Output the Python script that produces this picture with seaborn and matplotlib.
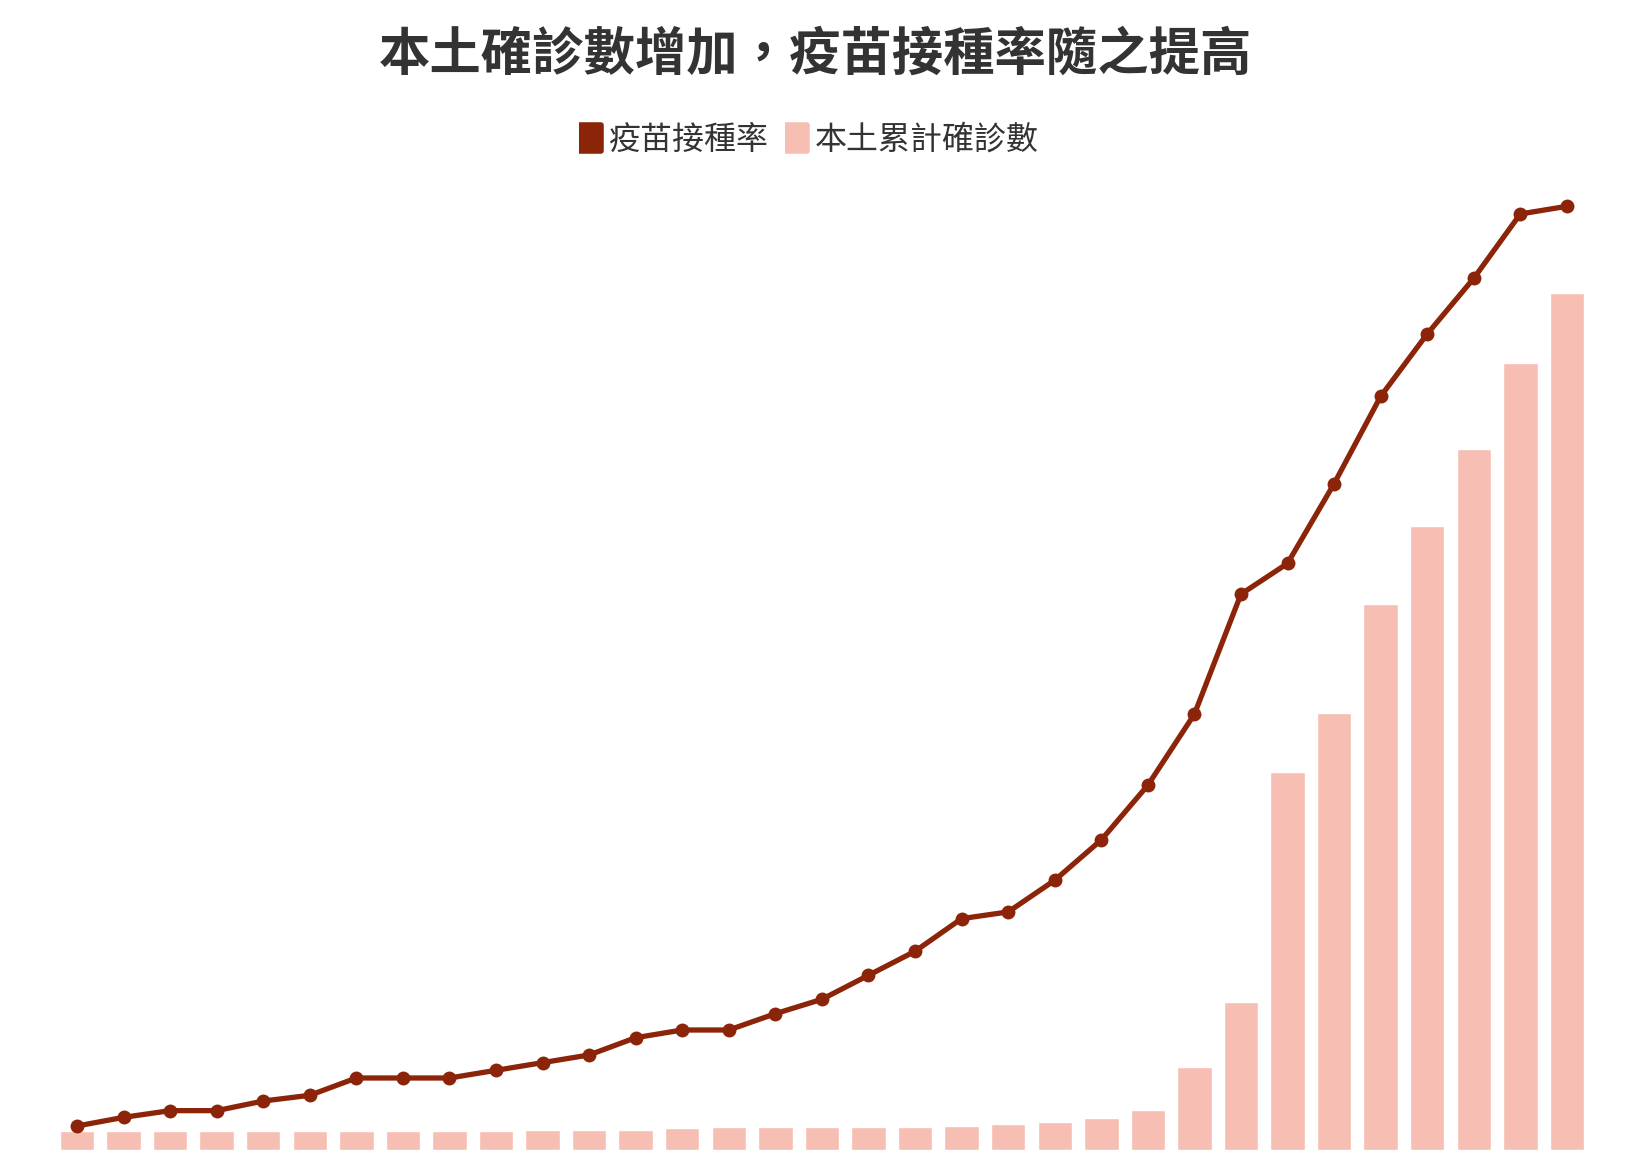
import numpy as np
import matplotlib.pyplot as plt
import seaborn as sns
from matplotlib.lines import Line2D
from matplotlib.markers import MarkerStyle

sns.set_style("white")
plt.rcParams['font.family'] = ['Noto Sans CJK TC', 'DejaVu Sans']

title = "本土確診數增加，疫苗接種率隨之提高"
line_label = "疫苗接種率"
bar_label = "本土累計確診數"

# 33 time points
days = list(range(33))
cases = [290, 290, 290, 290, 290, 290, 290, 290, 290, 290,
         310, 320, 320, 340, 360, 360, 360, 360, 360, 370,
         410, 440, 500, 620, 1300, 2310, 5900, 6830, 8530, 9750,
         10950, 12290, 13390]
rate = [0.25, 0.34, 0.41, 0.41, 0.51, 0.57, 0.75, 0.75, 0.75, 0.83,
        0.91, 0.99, 1.17, 1.25, 1.25, 1.42, 1.57, 1.82, 2.07, 2.41,
        2.48, 2.81, 3.23, 3.80, 4.54, 5.79, 6.11, 6.94, 7.85, 8.50,
        9.08, 9.75, 9.83]

line_color = "#8B2409"
bar_color = "#F7BFB4"

fig = plt.figure(figsize=(16.26, 11.5), dpi=100)
ax = fig.add_axes([0, 0, 1, 0.8348])
sns.barplot(x=days, y=cases, color=bar_color, saturation=1, width=0.74, ax=ax)
ax.set_ylim(0, 15000)

ax2 = ax.twinx()
sns.lineplot(x=days, y=rate, ax=ax2, color=line_color, linewidth=3.8,
             marker="o", markersize=10, markeredgewidth=0)
ax2.set_ylim(0, 10)

ax.set_xlim(-1.654, 33.27)
ax.axis("off")
ax2.axis("off")

fig.text(815 / 1626, 1 - 54 / 1150, title, ha="center", va="center",
         fontsize=37, fontweight="bold", color="#333333")

box = MarkerStyle([(-0.85, -1), (0.85, -1), (0.85, 1), (-0.85, 1)], joinstyle="round")
handles = [
    Line2D([], [], linestyle="none", marker=box, markersize=19, markeredgewidth=4,
           markerfacecolor=line_color, markeredgecolor=line_color),
    Line2D([], [], linestyle="none", marker=box, markersize=19, markeredgewidth=4,
           markerfacecolor=bar_color, markeredgecolor=bar_color),
]
fig.legend(handles, [line_label, bar_label], loc="center",
           bbox_to_anchor=(808 / 1626, 1 - 140 / 1150), ncol=2, frameon=False,
           fontsize=23, handlelength=0.8, handletextpad=0.2, columnspacing=0.45,
           labelcolor="#333333")

fig.savefig("out.png", dpi=100)
